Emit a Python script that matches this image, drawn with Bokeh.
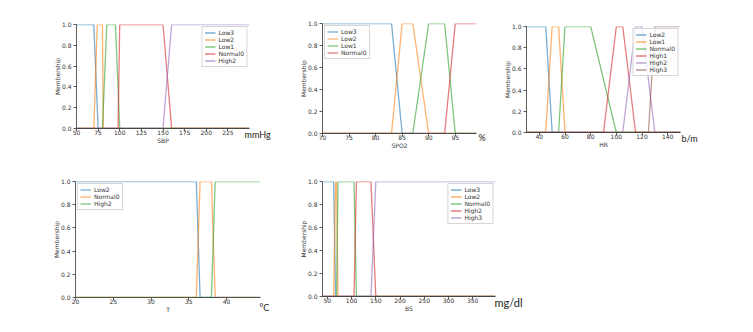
from bokeh.plotting import figure
from bokeh.layouts import row, column
from bokeh.models import Range1d, FixedTicker, PrintfTickFormatter, Label, Legend, LegendItem
from bokeh.embed import file_html
from bokeh.resources import INLINE

COLORS = ["#1f77b4", "#ff7f0e", "#2ca02c", "#d62728", "#9467bd", "#8c564b"]
MEMBERSHIP_TICKS = [0.0, 0.2, 0.4, 0.6, 0.8, 1.0]

# ---- SBP ----
sbp_range = [50, 250]
sbp_ticks = [50, 75, 100, 125, 150, 175, 200, 225]
sbp_names = ["Low3", "Low2", "Low1", "Normal0", "High2"]
sbp_x = [[50, 70, 75, 250],
         [50, 70, 74, 80, 81, 250],
         [50, 80, 85, 95, 100, 250],
         [50, 98, 100, 150, 160, 250],
         [50, 150, 160, 250]]
sbp_y = [[1, 1, 0, 0],
         [0, 0, 1, 1, 0, 0],
         [0, 0, 1, 1, 0, 0],
         [0, 0, 1, 1, 0, 0],
         [0, 0, 1, 1]]

# ---- SPO2 ----
spo2_range = [70, 99]
spo2_ticks = [70, 75, 80, 85, 90, 95]
spo2_names = ["Low3", "Low2", "Low1", "Normal0"]
spo2_x = [[70, 83, 85, 99],
          [70, 83, 85, 87, 90, 99],
          [70, 87, 90, 93, 95, 99],
          [70, 93, 95, 99]]
spo2_y = [[1, 1, 0, 0],
          [0, 0, 1, 1, 0, 0],
          [0, 0, 1, 1, 0, 0],
          [0, 0, 1, 1]]

# ---- HR ----
hr_range = [30, 150]
hr_ticks = [40, 60, 80, 100, 120, 140]
hr_names = ["Low2", "Low1", "Normal0", "High1", "High2", "High3"]
hr_x = [[30, 45, 50, 150],
        [30, 45, 50, 55, 60, 150],
        [30, 55, 60, 80, 100, 150],
        [30, 90, 100, 105, 115, 150],
        [30, 105, 115, 120, 130, 150],
        [30, 125, 130, 150]]
hr_y = [[1, 1, 0, 0],
        [0, 0, 1, 1, 0, 0],
        [0, 0, 1, 1, 0, 0],
        [0, 0, 1, 1, 0, 0],
        [0, 0, 1, 1, 0, 0],
        [0, 0, 1, 1]]

# ---- T ----
t_range = [20, 44.5]
t_ticks = [20, 25, 30, 35, 40]
t_names = ["Low2", "Normal0", "High2"]
t_x = [[20, 36, 36.5, 44.5],
       [20, 36, 36.5, 38, 38.5, 44.5],
       [20, 38, 38.5, 44.5]]
t_y = [[1, 1, 0, 0],
       [0, 0, 1, 1, 0, 0],
       [0, 0, 1, 1]]

# ---- BS ----
bs_range = [40, 397]
bs_ticks = [50, 100, 150, 200, 250, 300, 350]
bs_names = ["Low3", "Low2", "Normal0", "High2", "High3"]
bs_x = [[40, 63, 67, 397],
        [40, 63, 67, 69, 72, 397],
        [40, 69, 72, 105, 110, 397],
        [40, 105, 110, 140, 150, 397],
        [40, 140, 150, 397]]
bs_y = [[1, 1, 0, 0],
        [0, 0, 1, 1, 0, 0],
        [0, 0, 1, 1, 0, 0],
        [0, 0, 1, 1, 0, 0],
        [0, 0, 1, 1]]


def make(xr, ticks, names, xs, ys, xlabel, unit, loc, w, h, bl, br, bt, bb,
         udx, udy, usize):
    p = figure(width=w, height=h, x_range=Range1d(*xr), y_range=Range1d(0, 1),
               output_backend="svg", toolbar_location=None, title=None,
               min_border_left=bl, min_border_right=br,
               min_border_top=bt, min_border_bottom=bb)
    p.frame_align = False
    p.outline_line_color = None
    p.grid.visible = False
    p.background_fill_color = "white"
    p.border_fill_color = "white"
    items = []
    for i, (n, x, y) in enumerate(zip(names, xs, ys)):
        r = p.line(x, y, line_color=COLORS[i], line_width=1.3, line_alpha=0.6)
        items.append(LegendItem(label=n, renderers=[r]))
    p.xaxis.ticker = FixedTicker(ticks=ticks)
    p.yaxis.ticker = FixedTicker(ticks=MEMBERSHIP_TICKS)
    p.yaxis.formatter = PrintfTickFormatter(format="%.1f")
    for ax in (p.xaxis[0], p.yaxis[0]):
        ax.major_label_text_font = "DejaVu Sans"
        ax.major_label_text_font_size = "6px"
        ax.major_label_text_color = "#333333"
        ax.axis_label_text_font = "DejaVu Sans"
        ax.axis_label_text_font_size = "6px"
        ax.axis_label_text_font_style = "normal"
        ax.axis_label_text_color = "#333333"
        ax.minor_tick_line_color = None
        ax.major_tick_in = 0
        ax.major_tick_out = 3
        ax.axis_line_color = "#333333"
        ax.axis_line_width = 0.8
        ax.major_tick_line_color = "#333333"
        ax.major_tick_line_width = 0.8
    p.xaxis.major_label_standoff = -2
    p.xaxis.axis_label_standoff = -1
    p.yaxis.major_label_standoff = 2
    p.yaxis.axis_label_standoff = -2
    p.xaxis.axis_label = xlabel
    p.yaxis.axis_label = "Membership"
    leg = Legend(items=items, location=loc, label_text_font="DejaVu Sans",
                 label_text_font_size="6px", label_text_color="#333333",
                 label_height=7, glyph_height=7, glyph_width=11,
                 label_standoff=3, spacing=0, padding=2, margin=2,
                 border_line_color="#cccccc", border_line_alpha=0.8,
                 background_fill_alpha=0.8)
    p.add_layout(leg)
    p.add_layout(Label(x=xr[1], y=0, x_offset=udx, y_offset=udy, text=unit,
                       text_font="Lato", text_font_size=usize,
                       text_baseline="middle", text_color="#222222"), "right")
    return p


f1 = make(sbp_range, sbp_ticks, sbp_names, sbp_x, sbp_y, "SBP", "mmHg",
          "top_right", 296, 160, 76, 47, 24, 32, -5, -6, "9px")
f2 = make(spo2_range, spo2_ticks, spo2_names, spo2_x, spo2_y, "SPO2", "%",
          "top_left", 204, 160, 25, 24, 23, 27, 2, -4, "9px")
f3 = make(hr_range, hr_ticks, hr_names, hr_x, hr_y, "HR", "b/m",
          "top_right", 229, 160, 23, 49, 26, 28, 1, -6, "9px")
f4 = make(t_range, t_ticks, t_names, t_x, t_y, "T", "°C",
          "top_left", 296, 162, 75, 36, 21, 25, -1, -10, "9px")
f5 = make(bs_range, bs_ticks, bs_names, bs_x, bs_y, "BS", "mg/dl",
          "top_right", 264, 162, 23, 65, 21, 26, -1, -6, "11px")

layout = column(row(f1, f2, f3), row(f4, f5))
open("out.html", "w").write(file_html(layout, INLINE))
